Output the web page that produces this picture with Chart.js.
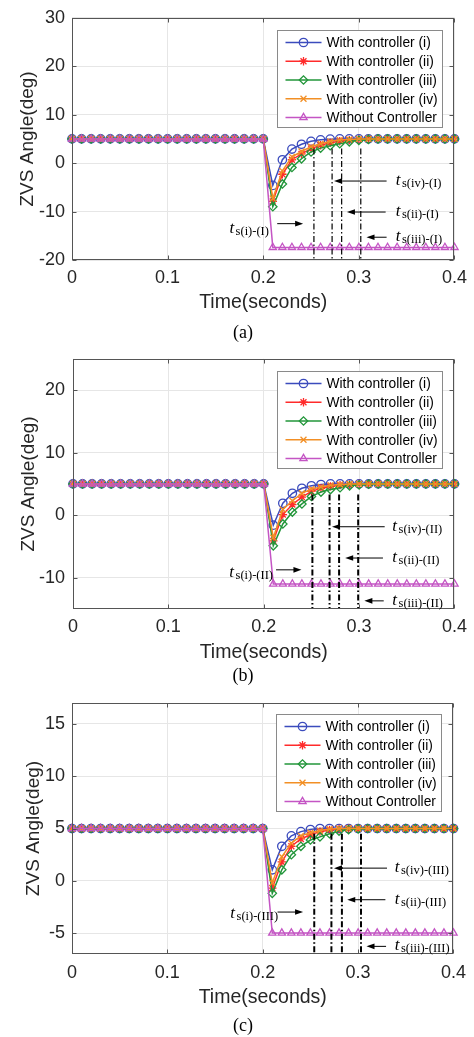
<!DOCTYPE html>
<html>
<head>
<meta charset="utf-8">
<title>ZVS Angle</title>
<script src="https://cdn.jsdelivr.net/npm/chart.js@4.4.0/dist/chart.umd.min.js"></script>
<style>
  body { margin: 0; background: #fff; }
  #wrap { position: relative; width: 474px; height: 1037px; background: #fff; }
  canvas { position: absolute; left: 0; }
  .cap { position: absolute; width: 60px; text-align: center; font: 18px "Liberation Serif", "Times New Roman", serif; color: #000; line-height: 20px; }
</style>
</head>
<body>
<div id="wrap">
  <canvas id="chart0" width="474" height="340" style="top:0"></canvas>
  <div class="cap" style="left:213px;top:322px">(a)</div>
  <canvas id="chart1" width="474" height="340" style="top:340px"></canvas>
  <div class="cap" style="left:213px;top:665px">(b)</div>
  <canvas id="chart2" width="474" height="357" style="top:680px"></canvas>
  <div class="cap" style="left:213px;top:1015px">(c)</div>
</div>
<script>
// time axis (seconds), one marker every 10 ms
const timeS = [0, 0.01, 0.02, 0.03, 0.04, 0.05, 0.06, 0.07, 0.08, 0.09, 0.1,
    0.11, 0.12, 0.13, 0.14, 0.15, 0.16, 0.17, 0.18, 0.19, 0.2,
    0.21, 0.22, 0.23, 0.24, 0.25, 0.26, 0.27, 0.28, 0.29, 0.3,
    0.31, 0.32, 0.33, 0.34, 0.35, 0.36, 0.37, 0.38, 0.39, 0.4];
const xTicks = [0, 0.1, 0.2, 0.3, 0.4];
const xTickLabels = ['0', '0.1', '0.2', '0.3', '0.4'];

const seriesNames = ['With controller (i)', 'With controller (ii)', 'With controller (iii)', 'With controller (iv)', 'Without Controller'];
const seriesColors = ['#3b4bbd', '#ff2b2b', '#22963a', '#f28f25', '#c455c4'];
const seriesMarkers = ['circle', 'star', 'rectRot', 'crossRot', 'triangle'];

// every case sits at 5 deg from 0 s to 0.2 s
const preStep = [5, 5, 5, 5, 5, 5, 5, 5, 5, 5, 5, 5, 5, 5, 5, 5, 5, 5, 5, 5, 5];

// (a) case I, values from 0.21 s to 0.40 s
const ctrlI_A   = [-4.6, 0.7, 2.9, 3.9, 4.5, 4.8, 4.95, 5, 5, 5, 5, 5, 5, 5, 5, 5, 5, 5, 5, 5];
const ctrlII_A  = [-7.9, -2.3, 0.7, 1.9, 3.0, 3.7, 4.2, 4.5, 4.75, 4.9, 5, 5, 5, 5, 5, 5, 5, 5, 5, 5];
const ctrlIII_A = [-9.0, -4.3, -0.9, 0.9, 2.3, 3.1, 3.6, 4.0, 4.4, 4.7, 4.9, 5, 5, 5, 5, 5, 5, 5, 5, 5];
const ctrlIV_A  = [-7.3, -1.6, 1.3, 2.4, 3.4, 4.0, 4.5, 4.8, 4.9, 5, 5, 5, 5, 5, 5, 5, 5, 5, 5, 5];
const noCtrl_A  = [-17.4, -17.4, -17.4, -17.4, -17.4, -17.4, -17.4, -17.4, -17.4, -17.4,
    -17.4, -17.4, -17.4, -17.4, -17.4, -17.4, -17.4, -17.4, -17.4, -17.4];
const yTicksA = [-20, -10, 0, 10, 20, 30];
const settleA = [0.253, 0.272, 0.282, 0.302];
const arrowsA = [{from: 0.329, to: 0.274, y: -3.7}, {from: 0.328, to: 0.2875, y: -10.1},
    {from: 0.329, to: 0.308, y: -15.3}, {from: 0.2146, to: 0.2417, y: -12.5}];
const labelsA = [{x: 0.3385, y: -3.7, sub: 's(iv)-(I)'}, {x: 0.3385, y: -10.1, sub: 's(ii)-(I)'},
    {x: 0.3385, y: -15.2, sub: 's(iii)-(I)'}, {x: 0.1646, y: -13.5, sub: 's(i)-(I)'}];

// (b) case II
const ctrlI_B   = [-1.6, 1.9, 3.5, 4.3, 4.7, 4.9, 5, 5, 5, 5, 5, 5, 5, 5, 5, 5, 5, 5, 5, 5];
const ctrlII_B  = [-4.1, 0.1, 1.7, 2.9, 3.8, 4.3, 4.6, 4.8, 4.9, 5, 5, 5, 5, 5, 5, 5, 5, 5, 5, 5];
const ctrlIII_B = [-4.9, -1.4, 0.5, 1.8, 3.0, 3.7, 4.1, 4.4, 4.7, 4.85, 4.95, 5, 5, 5, 5, 5, 5, 5, 5, 5];
const ctrlIV_B  = [-3.6, 0.9, 2.3, 3.5, 4.2, 4.5, 4.8, 4.9, 5, 5, 5, 5, 5, 5, 5, 5, 5, 5, 5, 5];
const noCtrl_B  = [-11, -11, -11, -11, -11, -11, -11, -11, -11, -11,
    -11, -11, -11, -11, -11, -11, -11, -11, -11, -11];
const yTicksB = [-10, 0, 10, 20];
const settleB = [0.251, 0.269, 0.279, 0.299];
const arrowsB = [{from: 0.3268, to: 0.2716, y: -1.85}, {from: 0.325, to: 0.2854, y: -6.85},
    {from: 0.3258, to: 0.3055, y: -13.7}, {from: 0.2129, to: 0.2395, y: -8.74}];
const labelsB = [{x: 0.3348, y: -1.85, sub: 's(iv)-(II)'}, {x: 0.3348, y: -6.85, sub: 's(ii)-(II)'},
    {x: 0.3348, y: -13.7, sub: 's(iii)-(II)'}, {x: 0.1639, y: -9.2, sub: 's(i)-(II)'}];

// (c) case III
const ctrlI_C   = [1.05, 3.3, 4.3, 4.7, 4.9, 5, 5, 5, 5, 5, 5, 5, 5, 5, 5, 5, 5, 5, 5, 5];
const ctrlII_C  = [-0.7, 1.8, 3.3, 4.0, 4.4, 4.7, 4.85, 4.95, 5, 5, 5, 5, 5, 5, 5, 5, 5, 5, 5, 5];
const ctrlIII_C = [-1.2, 1.05, 2.5, 3.3, 3.9, 4.2, 4.5, 4.75, 4.9, 4.97, 5, 5, 5, 5, 5, 5, 5, 5, 5, 5];
const ctrlIV_C  = [-0.2, 2.3, 3.6, 4.3, 4.6, 4.8, 4.95, 5, 5, 5, 5, 5, 5, 5, 5, 5, 5, 5, 5, 5];
const noCtrl_C  = [-5, -5, -5, -5, -5, -5, -5, -5, -5, -5,
    -5, -5, -5, -5, -5, -5, -5, -5, -5, -5];
const yTicksC = [-5, 0, 5, 10, 15];
const settleC = [0.254, 0.272, 0.283, 0.303];
const arrowsC = [{from: 0.3303, to: 0.2747, y: 1.21}, {from: 0.3286, to: 0.2886, y: -1.81},
    {from: 0.3293, to: 0.3088, y: -6.27}, {from: 0.2155, to: 0.2423, y: -2.99}];
const labelsC = [{x: 0.3384, y: 1.21, sub: 's(iv)-(III)'}, {x: 0.3384, y: -1.81, sub: 's(ii)-(III)'},
    {x: 0.3384, y: -6.27, sub: 's(iii)-(III)'}, {x: 0.166, y: -3.18, sub: 's(i)-(III)'}];

Chart.defaults.font.family = '"Liberation Sans", Arial, sans-serif';
Chart.defaults.color = '#262626';

// frame, inward ticks, settling-time arrows and labels, legend box
const extras = {
    id: 'extras',
    afterDraw(chart, args, opts) {
        const ctx = chart.ctx;
        const a = chart.chartArea;
        const xs = chart.scales.x, ys = chart.scales.y;
        ctx.save();

        ctx.strokeStyle = '#555';
        ctx.lineWidth = 1;
        const L = Math.round(a.left) + 0.5, R = Math.round(a.right) - 0.5;
        const T = Math.round(a.top) + 0.5, B = Math.round(a.bottom) - 0.5;
        ctx.strokeRect(L, T, R - L, B - T);
        ctx.beginPath();
        xs.ticks.forEach(t => {
            const px = Math.round(xs.getPixelForValue(t.value)) + 0.5;
            ctx.moveTo(px, B); ctx.lineTo(px, B - 4);
            ctx.moveTo(px, T); ctx.lineTo(px, T + 4);
        });
        ys.ticks.forEach(t => {
            const py = Math.round(ys.getPixelForValue(t.value)) + 0.5;
            ctx.moveTo(L, py); ctx.lineTo(L + 4, py);
            ctx.moveTo(R, py); ctx.lineTo(R - 4, py);
        });
        ctx.stroke();

        ctx.strokeStyle = '#000';
        ctx.fillStyle = '#000';
        ctx.lineWidth = 1;
        opts.arrows.forEach(ar => {
            const x1 = xs.getPixelForValue(ar.from), x2 = xs.getPixelForValue(ar.to);
            const py = ys.getPixelForValue(ar.y);
            const dir = Math.sign(x2 - x1);
            ctx.beginPath();
            ctx.moveTo(x1, py); ctx.lineTo(x2 - dir * 6, py);
            ctx.stroke();
            ctx.beginPath();
            ctx.moveTo(x2, py); ctx.lineTo(x2 - dir * 8, py - 2.8); ctx.lineTo(x2 - dir * 8, py + 2.8);
            ctx.closePath();
            ctx.fill();
        });

        ctx.textAlign = 'left';
        ctx.textBaseline = 'alphabetic';
        opts.labels.forEach(lb => {
            const px = xs.getPixelForValue(lb.x), py = ys.getPixelForValue(lb.y);
            ctx.font = 'italic 17px "Liberation Serif", "Times New Roman", serif';
            ctx.fillText('t', px, py + 4);
            const w = ctx.measureText('t').width;
            ctx.font = '12.5px "Liberation Serif", "Times New Roman", serif';
            ctx.fillText(lb.sub, px + w + 1.5, py + 6);
        });

        // legend
        const items = chart.data.datasets.slice(0, seriesNames.length);
        ctx.font = '13.8px "Liberation Sans", Arial, sans-serif';
        let maxW = 0;
        items.forEach(ds => { maxW = Math.max(maxW, ctx.measureText(ds.label).width); });
        const rowH = 18.75;
        const boxW = Math.round(49 + maxW + 5), boxH = 97;
        const bx = Math.round(a.right - 12 - boxW) + 0.5, by = Math.round(a.top + opts.legendTop) + 0.5;
        ctx.fillStyle = '#fff';
        ctx.fillRect(bx, by, boxW, boxH);
        ctx.strokeStyle = '#8a8a8a';
        ctx.strokeRect(bx, by, boxW, boxH);
        items.forEach((ds, i) => {
            const ry = by + 12 + i * rowH;
            ctx.strokeStyle = ds.borderColor;
            ctx.lineWidth = ds.borderWidth;
            ctx.setLineDash([]);
            ctx.beginPath();
            ctx.moveTo(bx + 8, ry); ctx.lineTo(bx + 44, ry);
            ctx.stroke();
            ctx.fillStyle = 'rgba(0,0,0,0)';
            ctx.lineWidth = ds.pointBorderWidth;
            if (Chart.helpers && Chart.helpers.drawPoint) {
                Chart.helpers.drawPoint(ctx, {pointStyle: ds.pointStyle, radius: ds.pointRadius, rotation: 0, borderWidth: ds.pointBorderWidth}, bx + 26, ry);
            }
            ctx.fillStyle = '#000';
            ctx.textBaseline = 'middle';
            ctx.fillText(ds.label, bx + 49, ry + 1);
        });
        ctx.restore();
    }
};

function makePanel(canvasId, p) {
    const datasets = seriesNames.map((name, i) => ({
        label: name,
        data: timeS.map((t, k) => ({x: t, y: p.values[i][k]})),
        borderColor: seriesColors[i],
        backgroundColor: 'rgba(0,0,0,0)',
        pointBackgroundColor: 'rgba(0,0,0,0)',
        pointBorderColor: seriesColors[i],
        pointStyle: seriesMarkers[i],
        pointRadius: 4.2,
        pointBorderWidth: 1.3,
        borderWidth: 1.5,
        order: 10 - i,
        clip: false
    }));
    p.settle.forEach(ts => datasets.push({
        label: 'settle',
        data: [{x: ts, y: p.settleTop}, {x: ts, y: p.yMin}],
        borderColor: '#000',
        borderWidth: p.settleWidth,
        borderDash: [6, 2.5, 1.5, 2.5],
        pointRadius: 0,
        order: 0
    }));

    return new Chart(document.getElementById(canvasId), {
        type: 'line',
        data: { datasets: datasets },
        plugins: [extras],
        options: {
            responsive: false,
            animation: false,
            devicePixelRatio: 1,
            layout: { padding: { left: 0, top: p.padTop, right: p.padRight, bottom: 0 } },
            plugins: {
                legend: { display: false },
                tooltip: { enabled: false },
                extras: { arrows: p.arrows, labels: p.labels, legendTop: p.legendTop }
            },
            scales: {
                x: {
                    type: 'linear',
                    min: 0,
                    max: 0.4,
                    afterBuildTicks: scale => { scale.ticks = xTicks.map(v => ({value: v})); },
                    afterFit: scale => { scale.height = p.xHeight; },
                    ticks: {
                        font: { size: 18 },
                        padding: p.xTickPad,
                        maxRotation: 0,
                        callback: v => xTickLabels[xTicks.indexOf(v)]
                    },
                    grid: { color: '#e6e6e6', drawTicks: false },
                    border: { display: false },
                    title: { display: true, text: 'Time(seconds)', font: { size: 19.5 }, padding: { top: 0, bottom: p.xTitlePad } }
                },
                y: {
                    min: p.yMin,
                    max: p.yMax,
                    afterBuildTicks: scale => { scale.ticks = p.yTicks.map(v => ({value: v})); },
                    afterFit: scale => { scale.width = p.yWidth; },
                    ticks: { font: { size: 18 }, padding: p.yTickPad, callback: v => String(v) },
                    grid: { color: '#e6e6e6', drawTicks: false },
                    border: { display: false },
                    title: { display: true, text: 'ZVS Angle(deg)', font: { size: 19 }, padding: { top: p.yTitlePad, bottom: 0 } }
                }
            }
        }
    });
}

makePanel('chart0', {
    values: [preStep.concat(ctrlI_A), preStep.concat(ctrlII_A), preStep.concat(ctrlIII_A), preStep.concat(ctrlIV_A), preStep.concat(noCtrl_A)],
    yMin: -20, yMax: 30, yTicks: yTicksA,
    settle: settleA, settleTop: 3, settleWidth: 1.2,
    arrows: arrowsA, labels: labelsA,
    padTop: 11, padRight: 18, yWidth: 72, xHeight: 80,
    xTickPad: 7, yTickPad: 7, xTitlePad: 26, yTitlePad: 16, legendTop: 12
});

makePanel('chart1', {
    values: [preStep.concat(ctrlI_B), preStep.concat(ctrlII_B), preStep.concat(ctrlIII_B), preStep.concat(ctrlIV_B), preStep.concat(noCtrl_B)],
    yMin: -15, yMax: 25, yTicks: yTicksB,
    settle: settleB, settleTop: 3.3, settleWidth: 2,
    arrows: arrowsB, labels: labelsB,
    padTop: 16, padRight: 15, yWidth: 73, xHeight: 71,
    xTickPad: 7, yTickPad: 8, xTitlePad: 16, yTitlePad: 17, legendTop: 12
});

makePanel('chart2', {
    values: [preStep.concat(ctrlI_C), preStep.concat(ctrlII_C), preStep.concat(ctrlIII_C), preStep.concat(ctrlIV_C), preStep.concat(noCtrl_C)],
    yMin: -7, yMax: 17, yTicks: yTicksC,
    settle: settleC, settleTop: 4.5, settleWidth: 2,
    arrows: arrowsC, labels: labelsC,
    padTop: 23, padRight: 19, yWidth: 72, xHeight: 83,
    xTickPad: 8, yTickPad: 7, xTitlePad: 28, yTitlePad: 22, legendTop: 11
});
</script>
</body>
</html>
